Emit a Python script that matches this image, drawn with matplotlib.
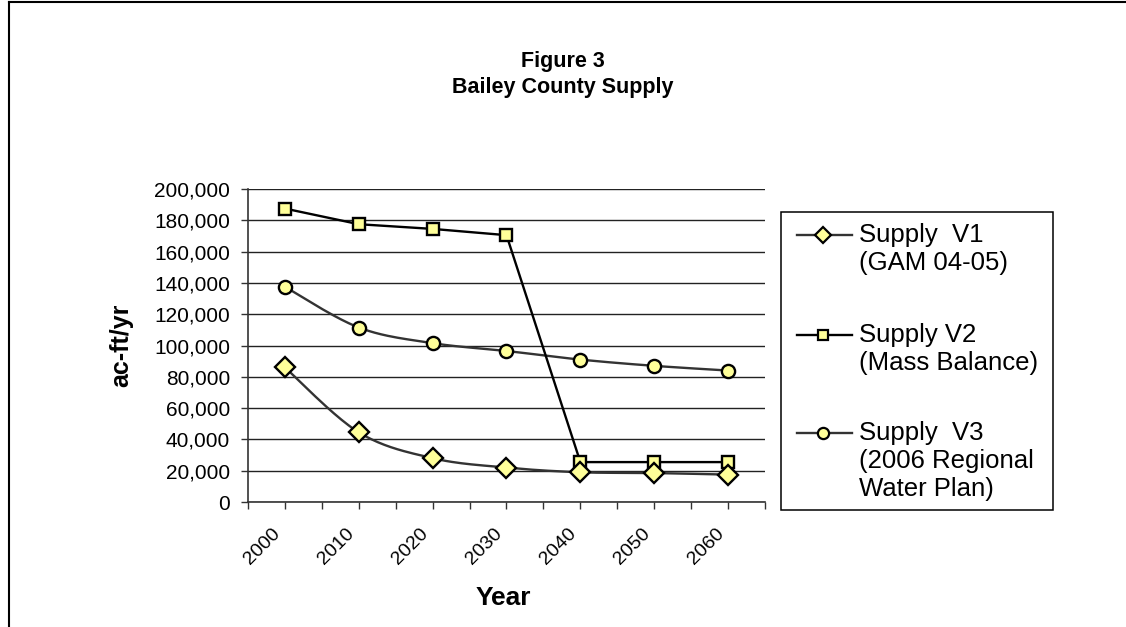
import numpy as np
import matplotlib
matplotlib.use('Agg')
import matplotlib.pyplot as plt
from matplotlib.lines import Line2D
from matplotlib.patches import Rectangle

plt.rcParams['font.family'] = ['Liberation Sans', 'DejaVu Sans']

YEARS = ['2000', '2010', '2020', '2030', '2040', '2050', '2060']
SUPPLY_V1 = [86000, 44500, 28000, 22000, 19000, 18500, 17500]
SUPPLY_V2 = [187500, 177500, 174500, 170500, 25500, 25500, 25500]
SUPPLY_V3 = [137500, 111500, 101500, 96500, 91000, 87000, 84000]
LABELS = ['Supply  V1\n(GAM 04-05)', 'Supply V2\n(Mass Balance)',
          'Supply  V3\n(2006 Regional\nWater Plan)']

FILL = '#FFFF99'
W, H = 1126, 627


def smooth(xs, ys, n=24):
    # excel-like smoothed line (catmull-rom as bezier)
    p = np.column_stack([xs, ys]).astype(float)
    p = np.vstack([p[0], p, p[-1]])
    out = []
    t = np.linspace(0, 1, n)
    for i in range(1, len(p) - 2):
        p0, p1, p2, p3 = p[i - 1], p[i], p[i + 1], p[i + 2]
        c1 = p1 + (p2 - p0) / 6
        c2 = p2 - (p3 - p1) / 6
        seg = ((1 - t) ** 3)[:, None] * p1 + (3 * (1 - t) ** 2 * t)[:, None] * c1 \
            + (3 * (1 - t) * t ** 2)[:, None] * c2 + (t ** 3)[:, None] * p2
        out.append(seg if i == 1 else seg[1:])
    out = np.vstack(out)
    return out[:, 0], out[:, 1]


fig = plt.figure(figsize=(11.26, 6.27), dpi=100)
ax = fig.add_axes([248 / W, 1 - 502 / H, (765 - 248) / W, (502 - 189) / H])

x = np.arange(len(YEARS)) + 0.5

sx, sy = smooth(x, SUPPLY_V1)
ax.plot(sx, sy, color='#333333', lw=1.7, zorder=3)
ax.plot(x, SUPPLY_V1, ls='none', marker='D', ms=10, mfc=FILL, mec='black', mew=1.7, zorder=5)

ax.plot(x, SUPPLY_V2, color='black', lw=1.7, marker='s', ms=8, mfc=FILL, mec='black', mew=1.7, zorder=4)

sx, sy = smooth(x, SUPPLY_V3)
ax.plot(sx, sy, color='#333333', lw=1.7, zorder=3)
ax.plot(x, SUPPLY_V3, ls='none', marker='o', ms=9.5, mfc=FILL, mec='black', mew=1.7, zorder=5)

ax.set_xlim(0, len(YEARS))
ax.set_ylim(0, 200000)
ax.set_yticks(np.arange(0, 200001, 20000))
ax.set_yticklabels([f'{v:,}' for v in range(0, 200001, 20000)], fontsize=15)
ax.yaxis.grid(True, color='#222222', lw=1)
ax.set_axisbelow(True)

ax.set_xticks(np.arange(0, len(YEARS) + 0.01, 0.5))
ax.set_xticklabels([])
for xi, lab in zip(x, YEARS):
    ax.annotate(lab, (xi, 0), xycoords=('data', 'axes fraction'), xytext=(-5, -21),
                textcoords='offset points', rotation=45, rotation_mode='anchor',
                ha='right', va='center', fontsize=14)

ax.tick_params(axis='both', direction='out', length=5, width=1, color='#333333')
ax.tick_params(axis='y', pad=8)
for s in ['top', 'right']:
    ax.spines[s].set_visible(False)
for s in ['left', 'bottom']:
    ax.spines[s].set_color('#333333')
    ax.spines[s].set_linewidth(1.2)

ax.set_ylabel('ac-ft/yr', fontsize=18, fontweight='bold')
ax.yaxis.set_label_coords((121 - 248) / (765 - 248), 0.5)
ax.yaxis.label.set_va('center')
fig.text(503 / W, 1 - 598 / H, 'Year', fontsize=19, fontweight='bold', ha='center', va='center')

fig.text(563 / W, 1 - 62 / H, 'Figure 3', fontsize=15.5, fontweight='bold', ha='center', va='center')
fig.text(563 / W, 1 - 88 / H, 'Bailey County Supply', fontsize=15.5, fontweight='bold',
         ha='center', va='center')

# outer chart frame (top and left edges visible)
fig.add_artist(Line2D([9 / W, 9 / W], [0, 1 - 1.5 / H], transform=fig.transFigure,
                      color='black', lw=1.5))
fig.add_artist(Line2D([9 / W, 1], [1 - 1.5 / H, 1 - 1.5 / H], transform=fig.transFigure,
                      color='black', lw=1.5))

# legend
fig.add_artist(Rectangle((781 / W, 1 - 510 / H), (1053 - 781) / W, (510 - 212) / H,
                         transform=fig.transFigure, fill=False, ec='black', lw=1.1))
entries = [('D', 10, '#333333', 235), ('s', 8, 'black', 335), ('o', 9.5, '#333333', 433)]
for (mk, ms, lc, ypix), lab in zip(entries, LABELS):
    yf = 1 - ypix / H
    fig.add_artist(Line2D([797 / W, 852 / W], [yf, yf], transform=fig.transFigure,
                          color=lc, lw=1.7))
    fig.add_artist(Line2D([823 / W], [yf], transform=fig.transFigure, ls='none',
                          marker=mk, ms=ms * 0.85, mfc=FILL, mec='black', mew=1.6))
    fig.text(859 / W, yf + 12 / H, lab, fontsize=18.5, ha='left', va='top', linespacing=1.2)

fig.savefig('out.png', dpi=100, facecolor='white')
